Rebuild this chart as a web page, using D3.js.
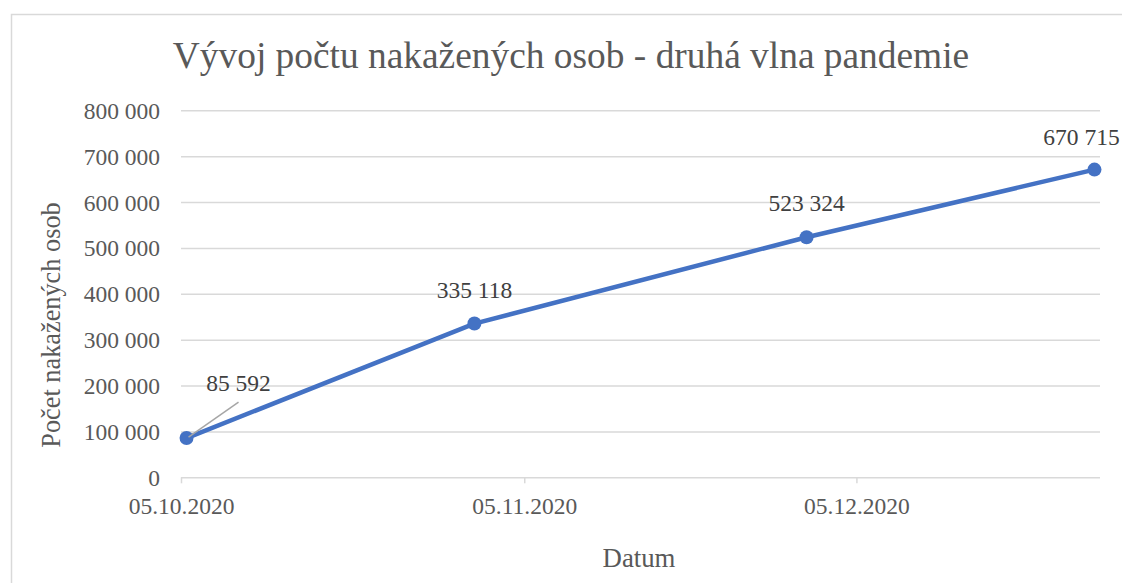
<!DOCTYPE html>
<html><head><meta charset="utf-8">
<script src="https://cdn.jsdelivr.net/npm/d3@7"></script>
<style>body{margin:0;background:#fff}svg{display:block}</style>
</head><body>
<svg id="c" width="1122" height="583"></svg>
<script>
const dates = ["2020-10-05","2020-10-31","2020-11-30","2020-12-26"];
const cases = [85592, 335118, 523324, 670715];
const xTicks = ["2020-10-05","2020-11-05","2020-12-05"];
const yTicks = [0,100000,200000,300000,400000,500000,600000,700000,800000];
const title = "Vývoj počtu nakažených osob - druhá vlna pandemie";
const yTitle = "Počet nakažených osob";
const xTitle = "Datum";

const FONT = "Liberation Serif";
const parse = d3.utcParse("%Y-%m-%d");
const fmtDate = d3.utcFormat("%d.%m.%Y");
const fmtNum = v => d3.format(",")(v).replace(/,/g, " ");

const svg = d3.select("#c");
const L = 181, R = 1100, T = 110.3, B = 477.3;
const x = d3.scaleUtc().domain([parse("2020-10-05"), parse("2020-12-27")]).range([L, R]);
const y = d3.scaleLinear().domain([0, 800000]).range([B, T]);

// border
svg.append("rect").attr("x", 11.5).attr("y", 14.5).attr("width", 1120).attr("height", 580)
  .attr("fill", "none").attr("stroke", "#d9d9d9").attr("stroke-width", 1.5);

// title
svg.append("text").attr("x", 571).attr("y", 68).attr("text-anchor", "middle")
  .style("font-family", FONT).attr("font-size", 37.4).attr("fill", "#595959").text(title);

// y grid + labels
const ya = svg.append("g").attr("transform", `translate(${L},0)`)
  .call(d3.axisLeft(y).tickValues(yTicks).tickSize(-(R - L)).tickPadding(21).tickFormat(fmtNum));
ya.select(".domain").remove();
ya.selectAll(".tick line").attr("stroke", "#d9d9d9").attr("stroke-width", 1.5);
ya.selectAll(".tick text").style("font-family", FONT).style("font-size", "23.5px").attr("fill", "#595959")
  .attr("dy", "0.34em");

// x axis
const xa = svg.append("g").attr("transform", `translate(0,${B})`)
  .call(d3.axisBottom(x).tickValues(xTicks.map(parse)).tickSize(6).tickPadding(14).tickFormat(fmtDate));
xa.select(".domain").remove();
xa.selectAll(".tick line").attr("stroke", "#d9d9d9").attr("stroke-width", 1.5);
xa.selectAll(".tick text").style("font-family", FONT).style("font-size", "23.5px").attr("fill", "#595959");

// axis titles
svg.append("text").attr("transform", `translate(60,325) rotate(-90)`).attr("text-anchor", "middle")
  .style("font-family", FONT).attr("font-size", 26.3).attr("fill", "#595959").text(yTitle);
svg.append("text").attr("x", 639).attr("y", 567).attr("text-anchor", "middle")
  .style("font-family", FONT).attr("font-size", 26.8).attr("fill", "#595959").text(xTitle);

const data = dates.map((d, i) => ({ date: d3.utcHour.offset(parse(d), 12), v: cases[i] }));

// line
svg.append("path").datum(data)
  .attr("d", d3.line().x(d => x(d.date)).y(d => y(d.v)))
  .attr("fill", "none").attr("stroke", "#4472C4").attr("stroke-width", 4.5).attr("stroke-linejoin", "round");

svg.selectAll("circle.pt").data(data).join("circle").attr("class", "pt")
  .attr("cx", d => x(d.date)).attr("cy", d => y(d.v)).attr("r", 7).attr("fill", "#4472C4");

// leader line for first label
const p0 = data[0];
svg.append("line").attr("x1", x(p0.date) + 2).attr("y1", y(p0.v) - 1)
  .attr("x2", x(p0.date) + 52).attr("y2", y(p0.v) - 36)
  .attr("stroke", "#a6a6a6").attr("stroke-width", 1.5);

// data labels
const offs = [{dx: 52, dy: -47}, {dx: 0, dy: -26}, {dx: 0, dy: -26}, {dx: -13, dy: -25}];
svg.selectAll("text.lbl").data(data).join("text").attr("class", "lbl")
  .attr("x", (d, i) => x(d.date) + offs[i].dx).attr("y", (d, i) => y(d.v) + offs[i].dy)
  .attr("text-anchor", "middle").style("font-family", FONT).attr("font-size", 23.5).attr("fill", "#404040")
  .text(d => fmtNum(d.v));
</script>
</body></html>
